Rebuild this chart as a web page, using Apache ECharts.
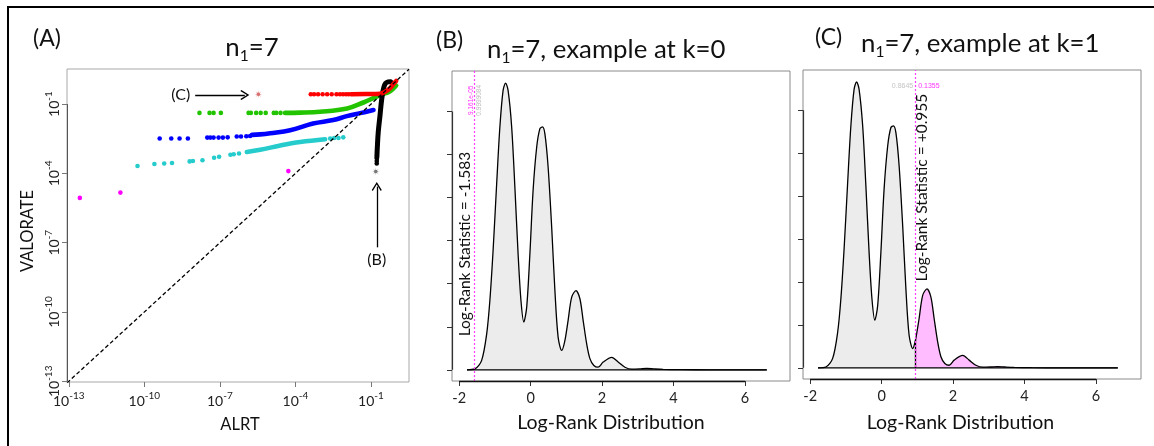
<!DOCTYPE html>
<html><head><meta charset="utf-8">
<script src="https://cdn.jsdelivr.net/npm/echarts@6.0.0/dist/echarts.min.js"></script>
<style>html,body{margin:0;padding:0;background:#fff;}#chart{width:1154px;height:446px;}</style>
</head><body><div id="chart"></div>
<script>
// ===== Panel A data: [log10(ALRT p), log10(VALORATE p)] =====
const aTickExponents = [-13, -10, -7, -4, -1];
const redSparse = [[-3.39,-0.57],[-3.26,-0.57],[-3.10,-0.57],[-2.92,-0.57],[-2.74,-0.57],[-2.56,-0.57],[-2.37,-0.57],[-2.23,-0.57],[-2.11,-0.57],[-1.99,-0.57],[-1.89,-0.57]];
const redDense = [[-1.79,-0.57],[-1.2,-0.565],[-0.64,-0.55],[-0.45,-0.48],[-0.25,-0.32],[-0.1,-0.12],[0,0]];
const greenSparse = [[-7.81,-1.38],[-7.41,-1.38],[-7.25,-1.38],[-6.96,-1.38],[-5.86,-1.38],[-5.77,-1.38],[-5.56,-1.38],[-5.38,-1.38],[-5.18,-1.38],[-4.86,-1.38],[-4.76,-1.38],[-4.59,-1.38]];
const greenDense = [[-4.41,-1.38],[-3.81,-1.37],[-3.02,-1.33],[-1.95,-1.19],[-1.30,-0.93],[-0.64,-0.61],[-0.24,-0.44],[0,-0.2]];
const blueSparse = [[-9.39,-2.49],[-8.93,-2.49],[-8.60,-2.49],[-8.27,-2.49],[-7.50,-2.45],[-7.38,-2.45],[-7.25,-2.45],[-7.05,-2.45],[-6.88,-2.45],[-6.69,-2.44],[-6.33,-2.40],[-6.16,-2.40],[-5.95,-2.39],[-5.80,-2.38]];
const blueDense = [[-5.73,-2.33],[-5.40,-2.31],[-5.00,-2.26],[-4.21,-2.13],[-3.30,-1.84],[-2.50,-1.69],[-1.96,-1.52],[-1.43,-1.39],[-0.90,-1.26]];
const cyanSparse = [[-10.27,-3.68],[-9.60,-3.59],[-9.21,-3.57],[-8.90,-3.55],[-8.20,-3.48],[-8.07,-3.46],[-7.69,-3.43],[-7.23,-3.32],[-7.03,-3.28],[-6.58,-3.19],[-6.45,-3.17],[-6.24,-3.14],[-2.62,-2.49],[-2.46,-2.47],[-2.29,-2.47],[-2.10,-2.44]];
const cyanDense = [[-5.93,-3.07],[-5.40,-2.98],[-4.60,-2.79],[-3.81,-2.64],[-2.82,-2.52]];
const magentaPts = [[-12.56,-5.06],[-10.95,-4.83],[-4.28,-3.90]];
const blackSparse = [[-0.77,-3.57],[-0.77,-3.46],[-0.765,-3.37]];
const blackDense = [[-0.765,-3.3],[-0.75,-2.92],[-0.71,-2.20],[-0.64,-1.48],[-0.57,-0.75],[-0.49,-0.28],[-0.42,-0.10],[-0.32,-0.04],[-0.22,-0.03]];
const exampleC = [[-5.47,-0.57]];
const exampleB = [[-0.81,-3.92]];
const arrowC = [[-7.98,-0.61],[-6.01,-0.61]];
const arrowB = [[-0.77,-7.20],[-0.77,-4.57]];

// ===== Panels B & C: log-rank null density =====
const densityX = [-1.78,-1.56,-1.37,-1.23,-1.14,-1.05,-0.95,-0.86,-0.77,-0.70,-0.63,-0.53,-0.44,-0.35,-0.27,-0.19,-0.11,-0.02,0.07,0.17,0.26,0.33,0.40,0.49,0.59,0.68,0.77,0.87,0.955,1.05,1.15,1.27,1.38,1.47,1.57,1.66,1.77,1.89,2.03,2.27,2.45,2.64,2.83,3.05,3.25,3.45,3.71,4.2,5.0,6.61];
const densityY = [0,0.002,0.022,0.083,0.161,0.277,0.432,0.564,0.649,0.666,0.649,0.564,0.424,0.269,0.161,0.111,0.145,0.269,0.417,0.517,0.560,0.564,0.548,0.471,0.331,0.184,0.076,0.045,0.066,0.115,0.169,0.184,0.165,0.115,0.060,0.026,0.010,0.006,0.018,0.029,0.018,0.006,0.0015,0.002,0.003,0.002,0.001,0.0003,0,0];
const densTicksX = [-2,0,2,4,6];
const densTicksY = [0,0.1,0.2,0.3,0.4,0.5,0.6];
const statB = -1.583, statC = 0.955, statCHeight = 0.066;
const pLabelsB = ['9.161e-05','0.9999084'];
const pLabelsC = ['0.8645','0.1355'];

const FONT = 'Lato';
const chart = echarts.init(document.getElementById('chart'));
const densPairs = densityX.map((x,i)=>[x, densityY[i]]);
const cLeft = densPairs.filter(p=>p[0] <= statC);
const cRight = densPairs.filter(p=>p[0] >= statC);

const supRich = {
  b: {fontSize: 14, fontFamily: FONT, color: '#222', lineHeight: 17, verticalAlign: 'bottom'},
  s: {fontSize: 10, fontFamily: FONT, color: '#222', lineHeight: 10, verticalAlign: 'top'}
};
const chevron = 'path://M5,0L10,7L9,8L5,2.2L1,8L0,7Z';
const star = (function(){let d='';for(let i=0;i<16;i++){const r=i%2===0?10:3.5;const a=i*Math.PI/8-Math.PI/2;d+=(i?'L':'M')+(10+r*Math.cos(a)).toFixed(2)+','+(10+r*Math.sin(a)).toFixed(2);}return 'path://'+d+'Z';})();

function denseLine(data, color, w){
  return {type:'line', xAxisIndex:0, yAxisIndex:0, data, smooth:0.4, symbol:'none', silent:true,
    lineStyle:{color, width:w||4.6, cap:'round', join:'round'}};
}
function sparse(data, color, size){
  return {type:'scatter', xAxisIndex:0, yAxisIndex:0, data, symbolSize:size||4.6, silent:true,
    itemStyle:{color, opacity:1}};
}
function densAxisX(g){
  return {gridIndex:g, type:'value', min:-2.2, max:7.26, axisLine:{show:false, onZero:false}, splitLine:{show:false},
    axisTick:{show:true, customValues:densTicksX, length:5, lineStyle:{color:'#333'}},
    axisLabel:{customValues:densTicksX, margin:10, fontSize:14.5, fontFamily:FONT, color:'#222'}};
}
function densAxisY(g){
  return {gridIndex:g, type:'value', min:-0.026, max:0.694, axisLine:{show:false, onZero:false}, splitLine:{show:false},
    axisTick:{show:true, customValues:densTicksY, length:5, lineStyle:{color:'#333'}},
    axisLabel:{show:false}};
}
const dottedMag = {color:'#ff3cff', type:[2,2], width:1.2};

const option = {
  animation:false,
  textStyle:{fontFamily:FONT},
  grid:[
    {left:67, top:69, width:342, height:313, show:true, borderColor:'#a8a8a8', borderWidth:1, outerBoundsMode:'none'},
    {left:452, top:71, width:338, height:310, show:true, borderColor:'#8a8a8a', borderWidth:1, outerBoundsMode:'none'},
    {left:803, top:70, width:338, height:309, show:true, borderColor:'#8a8a8a', borderWidth:1, outerBoundsMode:'none'}
  ],
  xAxis:[
    {gridIndex:0, type:'value', min:-13.07, max:0.51, axisLine:{show:false, onZero:false}, splitLine:{show:false},
     axisTick:{show:true, customValues:aTickExponents, length:5, lineStyle:{color:'#777'}},
     axisLabel:{customValues:aTickExponents, margin:9, formatter:v=>'{b|10}{s|'+v+'}', rich:supRich}},
    densAxisX(1), densAxisX(2)
  ],
  yAxis:[
    {gridIndex:0, type:'value', min:-13.03, max:0.52, axisLine:{show:false, onZero:false}, splitLine:{show:false},
     axisTick:{show:true, customValues:aTickExponents, length:5, lineStyle:{color:'#777'}},
     axisLabel:{customValues:aTickExponents, margin:6, rotate:90, formatter:v=>'{b|10}{s|'+v+'}', rich:supRich}},
    densAxisY(1), densAxisY(2)
  ],
  series:[
    // Panel A
    denseLine(cyanDense, '#26cccc'), sparse(cyanSparse, '#26cccc'),
    denseLine(blueDense, '#0000ff'), sparse(blueSparse, '#0000ff'),
    denseLine(greenDense, '#22c400'), sparse(greenSparse, '#22c400'),
    denseLine(blackDense, '#000000', 5), sparse(blackSparse, '#000000'),
    denseLine(redDense, '#ff0000'), sparse(redSparse, '#ff0000'),
    sparse(magentaPts, '#ff00ff'),
    {type:'scatter', xAxisIndex:0, yAxisIndex:0, data:exampleC, symbol:star, symbolSize:8, itemStyle:{color:'#eaa0a0'}, silent:true, z:5},
    {type:'scatter', xAxisIndex:0, yAxisIndex:0, data:exampleC, symbolSize:3.5, itemStyle:{color:'#d06060'}, silent:true, z:6},
    {type:'scatter', xAxisIndex:0, yAxisIndex:0, data:exampleB, symbol:star, symbolSize:8, itemStyle:{color:'#b0b0b0'}, silent:true, z:5},
    {type:'scatter', xAxisIndex:0, yAxisIndex:0, data:exampleB, symbolSize:3.5, itemStyle:{color:'#666'}, silent:true, z:6},
    {type:'line', xAxisIndex:0, yAxisIndex:0, data:[[-13.07,-13.07],[0.51,0.51]], symbol:'none', silent:true, z:8,
     lineStyle:{color:'#000', width:1.3, type:[4,2.5]},
     markLine:{silent:true, symbol:['none', chevron], symbolSize:[10,9], animation:false,
       lineStyle:{color:'#000', width:1.3, type:'solid'},
       label:{show:true, position:'start', distance:5, fontSize:16, fontFamily:FONT, color:'#111'},
       data:[
         [{coord:arrowC[0], label:{formatter:'(C)'}},{coord:arrowC[1]}],
         [{coord:arrowB[0], label:{formatter:'(B)'}},{coord:arrowB[1]}]
       ]}},
    {type:'line', xAxisIndex:0, yAxisIndex:0, data:[], clip:false, silent:true,
     markLine:{silent:true, symbol:'none', animation:false, label:{show:false}, lineStyle:{color:'#555', width:1, type:'solid'},
       data:[[{coord:[-13.07,-13]},{coord:[-13.07,-1]}]]}},
    // Panel B
    {type:'line', xAxisIndex:1, yAxisIndex:1, data:densPairs, smooth:0.3, symbol:'none', silent:true,
     lineStyle:{color:'#000', width:1.3}, areaStyle:{color:'#ececec', opacity:1}},
    {type:'line', xAxisIndex:1, yAxisIndex:1, data:[[densityX[0],0],[densityX[densityX.length-1],0]], symbol:'none', silent:true, clip:false, z:4,
     lineStyle:{color:'#000', width:1.3},
     markLine:{silent:true, symbol:'none', animation:false, label:{show:false},
       data:[
         {xAxis:statB, lineStyle:dottedMag},
         [{coord:[-2,-0.026], lineStyle:{color:'#111', width:1.4, type:'solid'}},{coord:[6,-0.026]}],
         [{coord:[-2.2,0], lineStyle:{color:'#333', width:1.2, type:'solid'}},{coord:[-2.2,0.6]}]
       ]}},
    // Panel C
    {type:'line', xAxisIndex:2, yAxisIndex:2, data:cLeft, smooth:0.3, symbol:'none', silent:true,
     lineStyle:{color:'#000', width:1.3}, areaStyle:{color:'#ececec', opacity:1}},
    {type:'line', xAxisIndex:2, yAxisIndex:2, data:cRight, smooth:0.3, symbol:'none', silent:true,
     lineStyle:{color:'#000', width:1.3}, areaStyle:{color:'#ffbcff', opacity:1}},
    {type:'line', xAxisIndex:2, yAxisIndex:2, data:[[densityX[0],0],[densityX[densityX.length-1],0]], symbol:'none', silent:true, clip:false, z:4,
     lineStyle:{color:'#000', width:1.3},
     markLine:{silent:true, symbol:'none', animation:false, label:{show:false},
       data:[
         [{coord:[statC,0], lineStyle:{color:'#000', width:1.3, type:'solid'}},{coord:[statC,statCHeight]}],
         {xAxis:statC, lineStyle:dottedMag},
         [{coord:[-2,-0.026], lineStyle:{color:'#111', width:1.4, type:'solid'}},{coord:[6,-0.026]}],
         [{coord:[-2.2,0], lineStyle:{color:'#333', width:1.2, type:'solid'}},{coord:[-2.2,0.6]}]
       ]}}
  ]
};
chart.setOption(option);

function T(x, y, text, size, o){
  o = o || {};
  return {type:'text', x:x, y:y, rotation:o.rot||0, silent:true, z:50,
    style:{text:text, fontSize:size, fontFamily:o.font||FONT, fill:o.color||'#111',
      align:o.align||'center', verticalAlign:o.va||'middle', rich:o.rich}};
}
const titleRich = {
  m:{fontSize:25.8, fontFamily:FONT, lineHeight:32, verticalAlign:'middle', color:'#111'},
  sub:{fontSize:15.5, fontFamily:FONT, lineHeight:15, verticalAlign:'bottom', color:'#111'}
};
const pB = chart.convertToPixel({gridIndex:1}, [-1.84, 0.292]);
const pB1 = chart.convertToPixel({gridIndex:1}, [-1.653, 0.626]);
const pB2 = chart.convertToPixel({gridIndex:1}, [-1.44, 0.626]);
const pC = chart.convertToPixel({gridIndex:2}, [1.141, 0.42]);
const pC1 = chart.convertToPixel({gridIndex:2}, [statC, 0.657]);

chart.setOption({graphic:[
  {type:'line', silent:true, shape:{x1:7, y1:7, x2:1154, y2:7}, style:{stroke:'#000', lineWidth:2}},
  {type:'line', silent:true, shape:{x1:8, y1:6, x2:8, y2:446}, style:{stroke:'#000', lineWidth:2}},
  T(33, 39, '(A)', 23, {align:'left'}),
  T(252, 48, '{m|n}{sub|1}{m|=7}', 25.8, {rich:titleRich}),
  T(436, 41, '(B)', 23, {align:'left'}),
  T(487, 50, '{m|n}{sub|1}{m|=7, example at k=0}', 25.8, {align:'left', rich:titleRich}),
  T(815, 38, '(C)', 23, {align:'left'}),
  T(861, 44, '{m|n}{sub|1}{m|=7, example at k=1}', 25.8, {align:'left', rich:titleRich}),
  T(27.5, 231, 'VALORATE', 16.5, {rot:Math.PI/2}),
  T(240, 425, 'ALRT', 16.5),
  T(611, 423, 'Log-Rank Distribution', 19.5),
  T(960.5, 423, 'Log-Rank Distribution', 19.5),
  T(pB[0], pB[1], 'Log-Rank Statistic = -1.583', 15.5, {rot:Math.PI/2}),
  T(pC[0], pC[1], 'Log-Rank Statistic = +0.955', 15.5, {rot:Math.PI/2}),
  T(pB1[0], pB1[1], pLabelsB[0], 6.5, {rot:Math.PI/2, color:'#ff33ff', font:'Liberation Sans'}),
  T(pB2[0], pB2[1], pLabelsB[1], 6.5, {rot:Math.PI/2, color:'#bbbbbb', font:'Liberation Sans'}),
  T(pC1[0]-2.5, pC1[1], pLabelsC[0], 7, {align:'right', color:'#c4c4c4', font:'Liberation Sans'}),
  T(pC1[0]+2.5, pC1[1], pLabelsC[1], 7, {align:'left', color:'#ff33ff', font:'Liberation Sans'})
]});
</script></body></html>
